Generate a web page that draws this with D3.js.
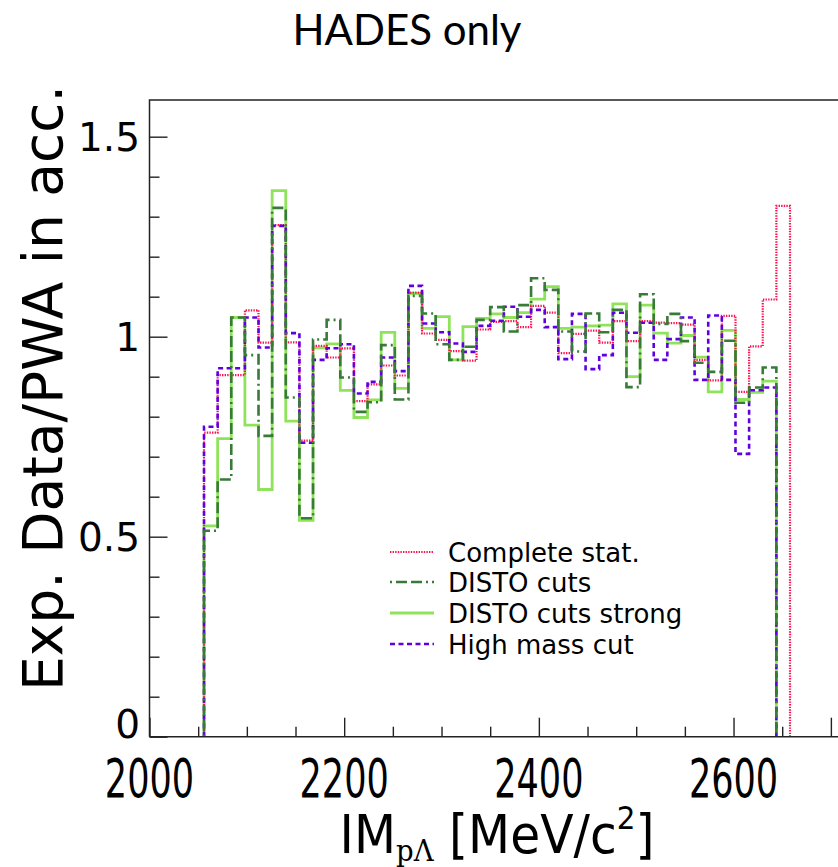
<!DOCTYPE html>
<html><head><meta charset="utf-8">
<script src="https://cdn.jsdelivr.net/npm/d3@7"></script>
<style>body{margin:0;background:#fff}</style>
</head><body><svg id="c" width="838" height="867"></svg>
<script>
// ---- data ----
const binStart = 2056;
const binWidth = 14;
const completeStat = [0.76,0.904,0.904,1.066,0.985,1.279,0.986,0.74,0.977,0.948,0.971,0.839,0.881,0.928,0.903,1.11,1.008,0.992,0.964,0.94,1.018,1.037,1.039,1.024,1.077,1.06,0.959,1.007,1.015,0.985,1.039,0.989,1.039,1.035,1.034,1.03,0.942,0.891,1.052,0.862,0.976,1.093,1.327];
const distoCuts = [0.515,0.643,1.048,0.954,0.752,1.322,0.848,0.546,0.993,1.042,0.898,0.812,0.836,0.979,0.843,1.102,1.058,0.981,0.942,0.975,1.042,1.074,1.013,1.079,1.146,1.117,1.013,0.963,1.058,1.011,1.067,0.874,1.106,1.032,1.057,0.989,0.935,0.912,0.99,0.835,0.873,0.923];
const distoStrong = [0.527,0.745,1.048,0.779,0.618,1.365,0.789,0.541,0.972,0.982,0.866,0.798,0.842,1.011,0.871,1.108,1.021,1.05,0.942,1.025,1.046,1.057,1.048,1.06,1.094,1.125,1.021,1.024,1.027,1.029,1.082,0.9,1.079,1.009,0.984,1.003,0.949,0.862,1.016,0.843,0.861,0.889];
const highMass = [0.775,0.921,0.921,1.048,0.973,1.277,1.009,0.735,0.942,0.971,0.981,0.858,0.887,0.948,0.914,1.127,1.033,1.011,0.983,0.962,1.027,1.04,1.075,1.05,1.067,1.024,0.944,1.057,0.919,0.954,1.06,1.01,1.035,0.942,0.994,1.048,0.892,1.053,0.892,0.707,0.866,0.873];
const seriesNames = ["Complete stat.","DISTO cuts","DISTO cuts strong","High mass cut"];
const xMajorTicks = [2000,2200,2400,2600,2700];
const xTickLabels = [2000,2200,2400,2600];
const yMajorTicks = [0,0.5,1,1.5];
const yTickLabels = ["0","0.5","1","1.5"];

// ---- layout ----
const svg = d3.select("#c");
const x = d3.scaleLinear().domain([2000,2720]).range([149.5,149.5+720*0.9734]);
const y = d3.scaleLinear().domain([0,1.5917]).range([736.7,100]);

const styles = [
  {data:completeStat, color:"#ff1050", width:2.2, dash:"1.4,1.2"},
  {data:distoCuts, color:"#387a38", width:2.6, dash:"2,4,11,4,11,4"},
  {data:distoStrong, color:"#8fe35a", width:2.8, dash:null},
  {data:highMass, color:"#6000e0", width:2.6, dash:"5,3.5"}
];

function histPoints(vals){
  const pts = [[binStart,0]];
  vals.forEach((v,i)=>{
    const lo = binStart+i*binWidth, hi = lo+binWidth;
    pts.push([lo,v]); pts.push([hi,v]);
  });
  pts.push([binStart+vals.length*binWidth,0]);
  return pts;
}
const line = d3.line().x(d=>x(d[0])).y(d=>y(d[1]));

const plot = svg.append("g");
// draw order: strong, complete, high mass, disto
[2,0,3,1].forEach(k=>{
  const s = styles[k];
  plot.append("path").attr("d", line(histPoints(s.data)))
    .attr("fill","none").attr("stroke",s.color).attr("stroke-width",s.width)
    .attr("stroke-dasharray",s.dash).attr("stroke-linejoin","miter");
});

// ---- axes ----
const axCol = "#222";
const gx = svg.append("g").attr("transform",`translate(0,${y(0)})`)
  .call(d3.axisBottom(x).tickValues(xMajorTicks).tickSizeInner(-19).tickSizeOuter(0).tickFormat(""));
const gxm = svg.append("g").attr("transform",`translate(0,${y(0)})`)
  .call(d3.axisBottom(x).tickValues(d3.range(2050,2751,50).filter(v=>v%100!==0 || (v%200!==0 && v!==2700))).tickSizeInner(-10).tickSizeOuter(0).tickFormat(""));
const gy = svg.append("g").attr("transform",`translate(${x(2000)},0)`)
  .call(d3.axisLeft(y).tickValues(yMajorTicks).tickSizeInner(-18).tickSizeOuter(0).tickFormat(""));
const gym = svg.append("g").attr("transform",`translate(${x(2000)},0)`)
  .call(d3.axisLeft(y).tickValues(d3.range(1,16).filter(v=>v%5!==0).map(v=>v/10)).tickSizeInner(-10).tickSizeOuter(0).tickFormat(""));
[gx,gxm,gy,gym].forEach(g=>{ g.select(".domain").remove(); g.selectAll("line").attr("stroke",axCol).attr("stroke-width",1.4); });

// frame
svg.append("path").attr("d",`M${x(2000)},${y(0)}H850M${x(2000)},${y(0)}V${y(1.5917)}H850`)
  .attr("fill","none").attr("stroke",axCol).attr("stroke-width",1.5);

// tick labels
xTickLabels.forEach(v=>{
  svg.append("text").attr("transform",`translate(${x(v)},797) scale(0.65,1)`)
    .attr("text-anchor","middle").attr("font-family","DejaVu Sans").attr("font-size",54).text(v);
});
yMajorTicks.forEach((v,i)=>{
  const yy = v===0 ? 738 : y(v)+14;
  svg.append("text").attr("x",140).attr("y",yy).attr("text-anchor","end")
    .attr("font-family","DejaVu Sans").attr("font-size",39).text(yTickLabels[i]);
});

// axis titles
const xt = svg.append("text").attr("transform","translate(497,853) scale(0.92,1)")
  .attr("text-anchor","middle").attr("font-family","DejaVu Sans").attr("font-size",53);
xt.append("tspan").text("IM");
xt.append("tspan").attr("font-family","DejaVu Serif").attr("font-size",30).attr("dy",8).text("pΛ");
xt.append("tspan").attr("dy",-8).text(" [MeV/c");
xt.append("tspan").attr("font-size",32).attr("dy",-24).text("2");
xt.append("tspan").attr("dy",24).text("]");

svg.append("text").attr("transform","translate(62,388) rotate(-90)")
  .attr("text-anchor","middle").attr("font-family","DejaVu Sans").attr("font-size",55)
  .text("Exp. Data/PWA in acc.");

svg.append("text").attr("x",407).attr("y",45).attr("text-anchor","middle")
  .attr("font-family","Lato").attr("font-size",42).text("HADES only");

// legend
const legY = [552,582,613,644];
const legOrder = [0,1,2,3];
legOrder.forEach((k,i)=>{
  const s = styles[k];
  svg.append("line").attr("x1",390).attr("x2",434).attr("y1",legY[i]).attr("y2",legY[i])
    .attr("stroke",s.color).attr("stroke-width",s.width).attr("stroke-dasharray",s.dash);
  svg.append("text").attr("x",448).attr("y",legY[i]+9.5).attr("font-family","DejaVu Sans")
    .attr("font-size",26).text(seriesNames[k]);
});
</script></body></html>
